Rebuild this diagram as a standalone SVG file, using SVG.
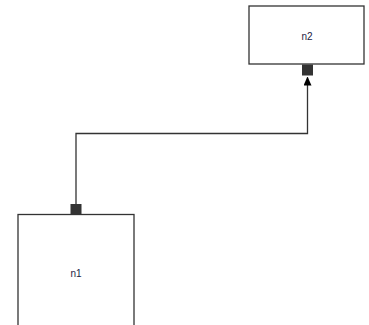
<svg xmlns="http://www.w3.org/2000/svg" width="369" height="325" viewBox="0 0 369 325">
<defs>
<style>
.node{fill:#ffffff;stroke:#333333;stroke-width:1.3}
.port{fill:#333333;stroke:none}
.lbl{font-family:"Liberation Sans",Arial,sans-serif;font-size:10px;fill:#222244;text-anchor:middle}
.edge{fill:none;stroke:#333333;stroke-width:1.3}
</style>
<marker id="arrow" markerWidth="9" markerHeight="8" refX="8" refY="4" orient="auto" markerUnits="userSpaceOnUse" viewBox="0 0 9 8">
<path d="M0,0 L9,4 L0,8 Z" fill="#000000"/>
</marker>
</defs>
<rect width="369" height="325" fill="#ffffff"/>
<g id="connectors">
<path class="edge" d="M76,204 L76,133.5 L307.5,133.5 L307.5,77.5" marker-end="url(#arrow)"/>
</g>
<g id="n2">
<rect class="node" x="249" y="6" width="115" height="58"/>
<text class="lbl" x="307" y="40">n2</text>
<rect class="port" x="302" y="64.5" width="11" height="11"/>
</g>
<g id="n1">
<rect class="node" x="18" y="214.5" width="116" height="120"/>
<text class="lbl" x="76" y="277">n1</text>
<rect class="port" x="70.5" y="204" width="11" height="11"/>
</g>
</svg>
